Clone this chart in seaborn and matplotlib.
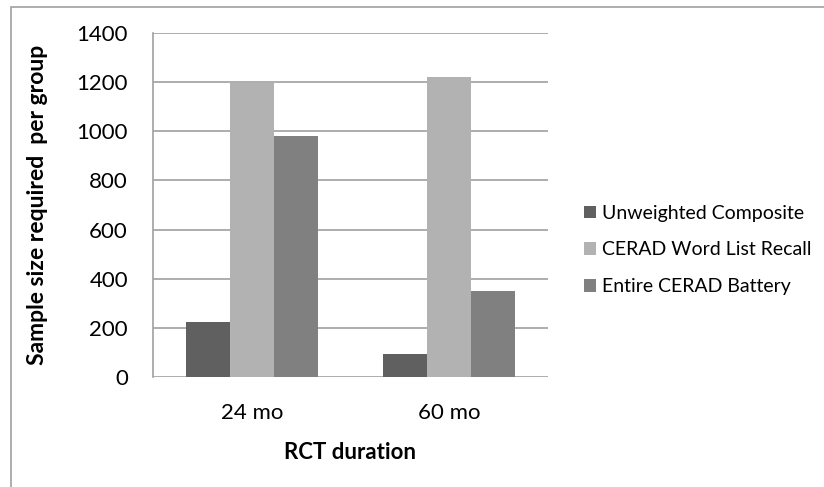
import pandas as pd
import matplotlib.pyplot as plt
import seaborn as sns
from matplotlib.patches import Rectangle

# chart data
durations = ["24 mo", "60 mo"]
measures = ["Unweighted Composite", "CERAD Word List Recall", "Entire CERAD Battery"]
unweighted = [222, 95]
word_recall = [1198, 1220]
entire_battery = [982, 352]

colors = ["#606060", "#b2b2b2", "#808080"]

rows = []
for i, d in enumerate(durations):
    rows.append({"duration": d, "measure": measures[0], "n": unweighted[i]})
    rows.append({"duration": d, "measure": measures[1], "n": word_recall[i]})
    rows.append({"duration": d, "measure": measures[2], "n": entire_battery[i]})
df = pd.DataFrame(rows)

sns.set_style("white")
plt.rcParams['font.family'] = ['Lato', 'DejaVu Sans']
plt.rcParams['text.color'] = 'black'

fig = plt.figure(figsize=(8.24, 4.87), dpi=100)
ax = fig.add_axes([153 / 824, 1 - 377 / 487, 395 / 824, 344 / 487])

sns.barplot(data=df, x="duration", y="n", hue="measure", palette=colors,
            width=0.668, saturation=1, ax=ax, edgecolor="none")

ax.set_ylim(0, 1400)
ax.set_yticks(range(0, 1401, 200))
ax.yaxis.grid(True, color="#a0a0a0", linewidth=1.2)
ax.set_axisbelow(True)
for s in ["top", "right", "bottom"]:
    ax.spines[s].set_visible(False)
ax.spines["left"].set_color("#a0a0a0")
ax.spines["left"].set_linewidth(1.2)
ax.tick_params(axis="y", labelsize=16, pad=18, length=0, labelcolor="black")
ax.tick_params(axis="x", labelsize=16, pad=19, length=0, labelcolor="black")

ax.set_xlabel("RCT duration", fontsize=16, fontweight="bold", color="black")
ax.set_ylabel("Sample size required  per group", fontsize=16.5, fontweight="bold", color="black")
ax.xaxis.set_label_coords(0.5, (377 - 442) / 344)
ax.yaxis.set_label_coords((48 - 153) / 395, 0.5)

ax.legend(loc="center left", bbox_to_anchor=((574 - 153) / 395, (377 - 250) / 344),
          frameon=False, borderpad=0, fontsize=14, handlelength=0.62,
          handleheight=0.62, handletextpad=0.3, labelspacing=1.02)

# outer chart frame
fig.patches.append(Rectangle((11 / 824, -0.1), 1.2, 1 - 7 / 487 + 0.1,
                             transform=fig.transFigure, fill=False,
                             edgecolor="#a0a0a0", linewidth=1.2))

fig.savefig("out.png", dpi=100)
